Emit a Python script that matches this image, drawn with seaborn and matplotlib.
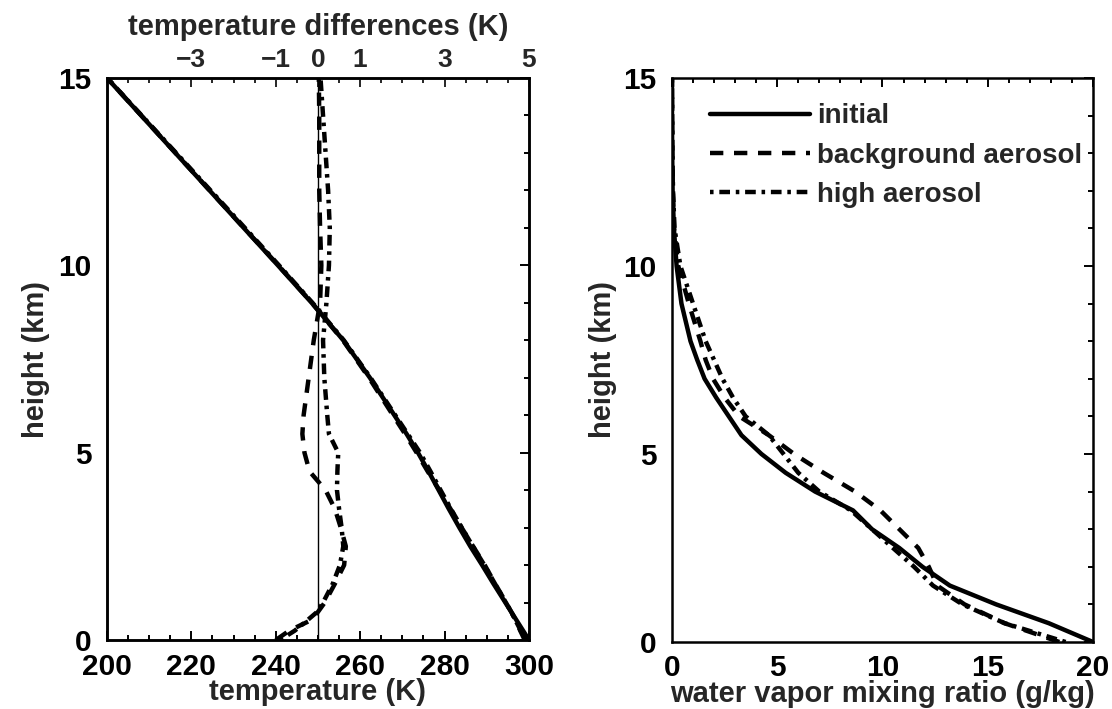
import matplotlib
matplotlib.use("Agg")
import matplotlib.pyplot as plt
import seaborn as sns
import pandas as pd
import numpy as np
from matplotlib.ticker import MultipleLocator, FixedLocator

# ---------------- data ----------------
heights_t = [0, 0.25, 0.5, 0.75, 1, 1.5, 2, 2.5, 3, 3.5, 4, 4.5, 5, 5.5, 6, 7, 8, 9,
             10, 11, 12, 13, 14, 15]
temp_initial = [300, 298.6, 297.2, 295.8, 294.4, 291.6, 288.9, 286.1, 283.5, 281.0,
                278.6, 276.2, 273.7, 271.0, 268.1, 262.3, 256.0, 248.5, 240.5, 232.4,
                224.3, 216.2, 208.1, 200]
diff_background = [-1.0, -0.68, -0.22, 0.0, 0.16, 0.4, 0.62, 0.66, 0.54, 0.4, 0.18,
                   -0.2, -0.32, -0.37, -0.34, -0.22, -0.1, 0.05, 0.08, 0.05, 0.03,
                   0.03, 0.03, 0.02]
diff_high = [-0.9, -0.55, -0.28, -0.02, 0.12, 0.35, 0.52, 0.6, 0.56, 0.5, 0.45, 0.46,
             0.48, 0.26, 0.22, 0.15, 0.12, 0.2, 0.26, 0.28, 0.24, 0.18, 0.12, 0.06]

heights_q = [0, 0.5, 1, 1.5, 2, 2.5, 3, 3.5, 4, 4.5, 5, 5.5, 6, 6.5, 7, 7.5, 8, 9,
             10, 11, 12, 13, 14, 15]
q_initial = [20.0, 17.9, 15.4, 13.2, 11.9, 10.8, 9.5, 8.6, 6.8, 5.4, 4.25, 3.3, 2.7,
             2.1, 1.55, 1.2, 0.88, 0.45, 0.22, 0.09, 0.03, 0.01, 0.0, 0.0]
q_background = [18.4, 15.8, 13.9, 12.6, 12.2, 11.7, 10.8, 9.9, 8.7, 7.2, 5.8, 4.6,
                3.2, 2.5, 1.95, 1.6, 1.35, 0.8, 0.3, 0.1, 0.04, 0.02, 0.01, 0.0]
q_high = [18.7, 15.8, 13.8, 12.4, 11.5, 10.5, 9.5, 8.5, 7.0, 6.0, 5.3, 4.6, 3.5, 2.9,
          2.4, 2.0, 1.6, 1.0, 0.4, 0.12, 0.05, 0.02, 0.01, 0.0]

series_labels = ["initial", "background aerosol", "high aerosol"]
top_ticks = [-3, -1, 0, 1, 3, 5]

# temperature profiles of the two runs = initial + difference
temp_background = list(np.array(temp_initial) + np.array(diff_background))
temp_high = list(np.array(temp_initial) + np.array(diff_high))

# ---------------- style ----------------
sns.set_style("white")
plt.rcParams["font.family"] = ["Liberation Sans", "DejaVu Sans"]
plt.rcParams["font.weight"] = "bold"
plt.rcParams["axes.labelweight"] = "bold"
plt.rcParams["axes.linewidth"] = 1.8
plt.rcParams["axes.edgecolor"] = "black"

LW = 3.2
DASH = (0, (3.0, 2.4))
DASHDOT = (0, (0.8, 1.3, 2.4, 1.3))
styles = ["-", DASH, DASHDOT]
LABEL_FS = 21
TICK_FS = 21.5

fig = plt.figure(figsize=(11.12, 7.09), dpi=100)
ax1 = fig.add_axes([0.0962, 0.0973, 0.3795, 0.7927])
ax2 = fig.add_axes([0.6043, 0.0945, 0.3786, 0.7955])


def style_ticks(ax, top=True):
    ax.tick_params(axis="both", which="both", direction="in", colors="black",
                   width=1.4, right=True, top=top)
    ax.tick_params(which="major", length=6.5)
    ax.tick_params(which="minor", length=3.5)


# ---------------- left panel ----------------
for T, ls in zip([temp_initial, temp_background, temp_high], styles):
    sns.lineplot(x=T, y=heights_t, orient="y", estimator=None, ax=ax1,
                 color="black", lw=LW, linestyle=ls)
ax1.set_xlim(200, 300)
ax1.set_ylim(0, 15)
ax1.xaxis.set_major_locator(MultipleLocator(20))
ax1.xaxis.set_minor_locator(MultipleLocator(5))
ax1.yaxis.set_major_locator(MultipleLocator(5))
ax1.yaxis.set_minor_locator(MultipleLocator(1))
style_ticks(ax1, top=False)
ax1.tick_params(axis="x", labelsize=TICK_FS, pad=9)
ax1.tick_params(axis="y", labelsize=TICK_FS, pad=11)
ax1.set_xlabel("temperature (K)", fontsize=LABEL_FS)
ax1.set_ylabel("height (km)", fontsize=LABEL_FS)
ax1.xaxis.set_label_coords(0.5, -0.068)
ax1.yaxis.set_label_coords(-0.135, 0.5)

axt = ax1.twiny()
axt.axvline(0, color="black", lw=1.0)
for d, ls in zip([diff_background, diff_high], styles[1:]):
    sns.lineplot(x=d, y=heights_t, orient="y", estimator=None, ax=axt,
                 color="black", lw=LW, linestyle=ls)
axt.set_xlim(-5, 5)
axt.set_ylim(0, 15)
axt.xaxis.set_major_locator(FixedLocator(top_ticks))
axt.xaxis.set_minor_locator(MultipleLocator(0.5))
axt.tick_params(axis="x", which="both", direction="in", width=1.4, labelsize=19, pad=4)
axt.tick_params(axis="x", which="major", length=6.5)
axt.tick_params(axis="x", which="minor", length=3.5)
axt.set_xlabel("temperature differences (K)", fontsize=LABEL_FS)
axt.xaxis.set_label_coords(0.5, 1.076)
for sp in axt.spines.values():
    sp.set_linewidth(1.8)

# ---------------- right panel ----------------
for q, ls, lab in zip([q_initial, q_background, q_high], styles, series_labels):
    sns.lineplot(x=q, y=heights_q, orient="y", estimator=None, ax=ax2,
                 color="black", lw=LW, linestyle=ls, label=lab)
ax2.set_xlim(0, 20)
ax2.set_ylim(0, 15)
ax2.xaxis.set_major_locator(MultipleLocator(5))
ax2.xaxis.set_minor_locator(MultipleLocator(1))
ax2.yaxis.set_major_locator(MultipleLocator(5))
ax2.yaxis.set_minor_locator(MultipleLocator(1))
style_ticks(ax2, top=True)
ax2.tick_params(axis="x", labelsize=TICK_FS, pad=9)
ax2.tick_params(axis="y", labelsize=TICK_FS, pad=11)
ax2.set_xlabel("water vapor mixing ratio (g/kg)", fontsize=LABEL_FS)
ax2.set_ylabel("height (km)", fontsize=LABEL_FS)
ax2.xaxis.set_label_coords(0.5, -0.068)
ax2.yaxis.set_label_coords(-0.131, 0.5)

leg = ax2.legend(loc="upper left", bbox_to_anchor=(0.09, 0.955), frameon=False,
                 fontsize=20, handlelength=3.6, handletextpad=0.25,
                 labelspacing=0.48, borderpad=0, borderaxespad=0)
for t in leg.get_texts():
    t.set_fontweight("bold")

fig.savefig("out.png", dpi=100)
